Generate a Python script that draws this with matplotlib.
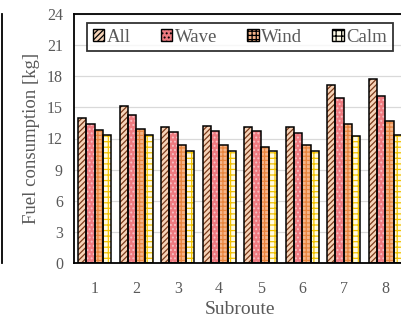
import numpy as np
import matplotlib
matplotlib.use("Agg")
import matplotlib.pyplot as plt
from matplotlib.lines import Line2D
from matplotlib.patches import Patch

subroutes = ["1", "2", "3", "4", "5", "6", "7", "8"]
series = ["All", "Wave", "Wind", "Calm"]
fuel_all = [14.0, 15.1, 13.1, 13.2, 13.1, 13.1, 17.2, 17.7]
fuel_wave = [13.4, 14.3, 12.6, 12.7, 12.7, 12.5, 15.9, 16.1]
fuel_wind = [12.8, 12.9, 11.4, 11.4, 11.2, 11.4, 13.4, 13.7]
fuel_calm = [12.3, 12.3, 10.8, 10.8, 10.8, 10.8, 12.2, 12.3]

values = [fuel_all, fuel_wave, fuel_wind, fuel_calm]
faces = ["#F6D3B8", "#EE7A80", "#F5B58A", "#FFFBE6"]
hatch_cols = ["#7A3A1A", "#F8C0C4", "#E8853E", "#F2C200"]
hatches = ["//////", "....", "++++", "+++"]

plt.rcParams["font.family"] = ["Liberation Serif", "DejaVu Serif"]
plt.rcParams["hatch.linewidth"] = 0.9
gray = "#595959"

fig = plt.figure(figsize=(4.02, 3.21), dpi=100)
ax = fig.add_axes([74 / 402, 58 / 321, 332 / 402, 249 / 321])

x = np.arange(1, len(subroutes) + 1)
w = 0.2
for i, (vals, fc, hc, h) in enumerate(zip(values, faces, hatch_cols, hatches)):
    pos = x + (i - 1.5) * w
    # hatch layer (hatch takes edge colour), then black outline
    ax.bar(pos, vals, w, facecolor=fc, edgecolor=hc, hatch=h, linewidth=0, zorder=2)
    ax.bar(pos, vals, w, facecolor="none", edgecolor="black", linewidth=1.1, zorder=3)

handles = []
for fc, hc, h in zip(faces, hatch_cols, hatches):
    handles.append(Patch(facecolor=fc, edgecolor="black", hatch=h, linewidth=1.0))
leg = ax.legend(handles, series, loc="upper center", ncol=4, frameon=True, fancybox=False,
                edgecolor="black", fontsize=13.5, handlelength=0.6, handleheight=0.6,
                handletextpad=0.15, columnspacing=1.6, borderpad=0.3, borderaxespad=0,
                bbox_to_anchor=(0.5, 0.964))
leg.get_frame().set_linewidth(1.3)
for t in leg.get_texts():
    t.set_color(gray)

ax.set_xlim(0.5, 8.5)
ax.set_ylim(0, 24)
ax.set_yticks(np.arange(0, 25, 3))
ax.set_xticks(x)
ax.set_xticklabels(subroutes)
ax.tick_params(length=0, labelsize=11.5, colors=gray, pad=8)
ax.tick_params(axis="x", pad=13)
ax.yaxis.grid(True, color="#D9D9D9", linewidth=0.9, zorder=0)
ax.set_axisbelow(True)
for s in ax.spines.values():
    s.set_linewidth(1.3)
    s.set_color("black")

ax.set_ylabel("Fuel consumption [kg]", fontsize=13.5, color=gray, labelpad=5)
ax.set_xlabel("Subroute", fontsize=14, color=gray, labelpad=3)

# edge of neighbouring panel
fig.add_artist(Line2D([2 / 402, 2 / 402], [1 - 14 / 321, 1 - 263 / 321],
                      transform=fig.transFigure, color="black", linewidth=1.3))

fig.savefig("out.png", dpi=100)
